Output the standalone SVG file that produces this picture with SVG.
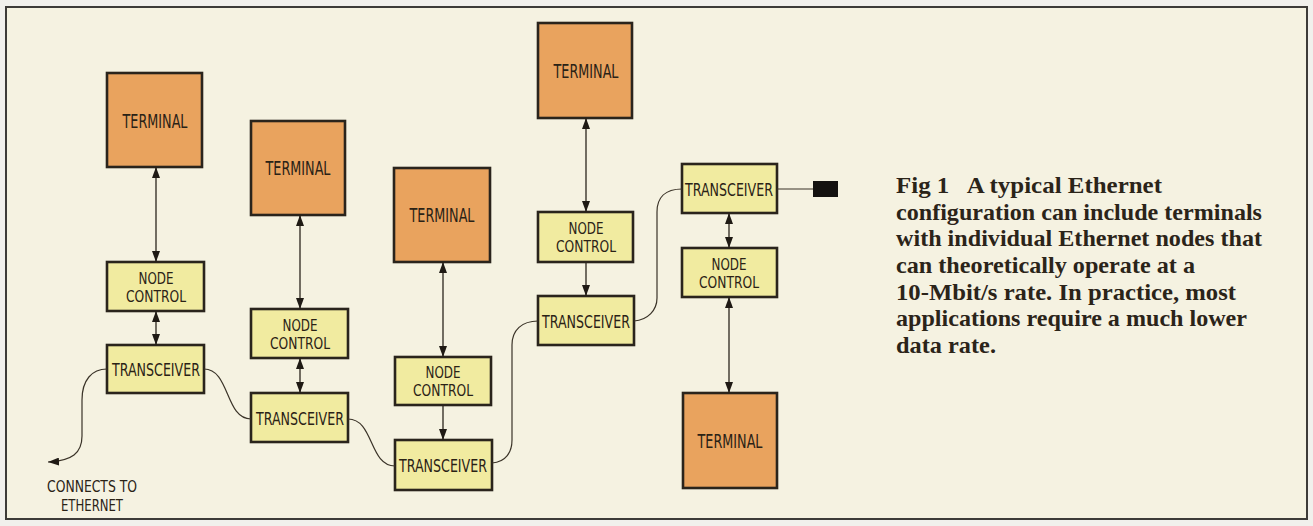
<svg xmlns="http://www.w3.org/2000/svg" width="1313" height="526" viewBox="0 0 1313 526">
  <style>
    .frame { fill: #f5f2e1; stroke: #3d3b38; stroke-width: 2; }
    .term { fill: #e9a35e; stroke: #2a241c; stroke-width: 2.6; }
    .box { fill: #f1eba0; stroke: #2a241c; stroke-width: 2.6; }
    .lbl { font-family: "Liberation Sans Narrow", "DejaVu Sans Condensed", "Liberation Sans", sans-serif; fill: #2a2216; text-anchor: middle; }
    .t18 { font-size: 19.5px; }
    .t16 { font-size: 18px; }
    .t2 { font-size: 15.5px; }
    .link { fill: none; stroke: #2a241c; stroke-width: 1.3; }
    .cable { fill: none; stroke: #3a3328; stroke-width: 1.2; }
    .cap { font-family: "Liberation Serif", "Times New Roman", serif; font-weight: bold; font-size: 23px; fill: #2b2419; }
  </style>
  <defs>
    <marker id="ah" viewBox="0 0 11 8" refX="11" refY="4" markerWidth="11" markerHeight="8" markerUnits="userSpaceOnUse" orient="auto-start-reverse">
      <path d="M0,0 L11,4 L0,8 z" fill="#1f1a14"/>
    </marker>
  </defs>

  <rect width="1313" height="526" fill="#f1f0ec"/>
  <rect class="frame" x="6" y="7" width="1301" height="512"/>

  <!-- column 1 -->
  <g id="terminal1"><rect class="term" x="107" y="73" width="95" height="94"/><text class="lbl t18" x="155" y="128" textLength="65" lengthAdjust="spacingAndGlyphs">TERMINAL</text></g>
  <g id="node1"><rect class="box" x="107" y="262" width="97" height="49"/><text class="lbl t2" x="156" y="284" textLength="35" lengthAdjust="spacingAndGlyphs">NODE</text><text class="lbl t2" x="156" y="302" textLength="60" lengthAdjust="spacingAndGlyphs">CONTROL</text></g>
  <g id="xcvr1"><rect class="box" x="107" y="345" width="97" height="48"/><text class="lbl t16" x="156" y="376" textLength="88" lengthAdjust="spacingAndGlyphs">TRANSCEIVER</text></g>

  <!-- column 2 -->
  <g id="terminal2"><rect class="term" x="251" y="121" width="94" height="94"/><text class="lbl t18" x="298" y="175" textLength="65" lengthAdjust="spacingAndGlyphs">TERMINAL</text></g>
  <g id="node2"><rect class="box" x="251" y="309" width="97" height="49"/><text class="lbl t2" x="300" y="331" textLength="35" lengthAdjust="spacingAndGlyphs">NODE</text><text class="lbl t2" x="300" y="349" textLength="60" lengthAdjust="spacingAndGlyphs">CONTROL</text></g>
  <g id="xcvr2"><rect class="box" x="251" y="393" width="97" height="49"/><text class="lbl t16" x="300" y="425" textLength="88" lengthAdjust="spacingAndGlyphs">TRANSCEIVER</text></g>

  <!-- column 3 -->
  <g id="terminal3"><rect class="term" x="394" y="168" width="96" height="94"/><text class="lbl t18" x="442" y="222" textLength="65" lengthAdjust="spacingAndGlyphs">TERMINAL</text></g>
  <g id="node3"><rect class="box" x="395" y="357" width="96" height="48"/><text class="lbl t2" x="443" y="378" textLength="35" lengthAdjust="spacingAndGlyphs">NODE</text><text class="lbl t2" x="443" y="396" textLength="60" lengthAdjust="spacingAndGlyphs">CONTROL</text></g>
  <g id="xcvr3"><rect class="box" x="395" y="440" width="97" height="50"/><text class="lbl t16" x="443" y="472" textLength="88" lengthAdjust="spacingAndGlyphs">TRANSCEIVER</text></g>

  <!-- column 4 -->
  <g id="terminal4"><rect class="term" x="538" y="23" width="94" height="95"/><text class="lbl t18" x="586" y="78" textLength="65" lengthAdjust="spacingAndGlyphs">TERMINAL</text></g>
  <g id="node4"><rect class="box" x="538" y="212" width="95" height="50"/><text class="lbl t2" x="586" y="234" textLength="35" lengthAdjust="spacingAndGlyphs">NODE</text><text class="lbl t2" x="586" y="252" textLength="60" lengthAdjust="spacingAndGlyphs">CONTROL</text></g>
  <g id="xcvr4"><rect class="box" x="538" y="296" width="96" height="49"/><text class="lbl t16" x="586" y="328" textLength="88" lengthAdjust="spacingAndGlyphs">TRANSCEIVER</text></g>

  <!-- column 5 -->
  <g id="xcvr5"><rect class="box" x="682" y="164" width="95" height="49"/><text class="lbl t16" x="729" y="196" textLength="88" lengthAdjust="spacingAndGlyphs">TRANSCEIVER</text></g>
  <g id="node5"><rect class="box" x="682" y="248" width="95" height="49"/><text class="lbl t2" x="729" y="270" textLength="35" lengthAdjust="spacingAndGlyphs">NODE</text><text class="lbl t2" x="729" y="288" textLength="60" lengthAdjust="spacingAndGlyphs">CONTROL</text></g>
  <g id="terminal5"><rect class="term" x="683" y="393" width="94" height="95"/><text class="lbl t18" x="730" y="448" textLength="65" lengthAdjust="spacingAndGlyphs">TERMINAL</text></g>
  <g id="terminator"><rect x="813" y="181" width="25" height="16" fill="#141210"/></g>

  <g id="connectors">
    <!-- terminal / node / transceiver links -->
    <line class="link" x1="156" y1="167" x2="156" y2="262" marker-start="url(#ah)" marker-end="url(#ah)"/>
    <line class="link" x1="156" y1="311" x2="156" y2="345" marker-start="url(#ah)" marker-end="url(#ah)"/>
    <line class="link" x1="300" y1="215" x2="300" y2="309" marker-start="url(#ah)" marker-end="url(#ah)"/>
    <line class="link" x1="300" y1="358" x2="300" y2="393" marker-start="url(#ah)" marker-end="url(#ah)"/>
    <line class="link" x1="443" y1="262" x2="443" y2="357" marker-start="url(#ah)" marker-end="url(#ah)"/>
    <line class="link" x1="443" y1="405" x2="443" y2="440" marker-end="url(#ah)"/>
    <line class="link" x1="586" y1="118" x2="586" y2="212" marker-start="url(#ah)" marker-end="url(#ah)"/>
    <line class="link" x1="586" y1="262" x2="586" y2="296" marker-end="url(#ah)"/>
    <line class="link" x1="729" y1="213" x2="729" y2="248" marker-start="url(#ah)" marker-end="url(#ah)"/>
    <line class="link" x1="729" y1="297" x2="729" y2="393" marker-start="url(#ah)" marker-end="url(#ah)"/>

    <!-- network cable between transceivers -->
    <path class="cable" d="M107,369 C92,369 82,380 82,400 L82,436 C82,453 72,461 48,462" marker-end="url(#ah)"/>
    <path class="cable" d="M204,369 C230,369 225,419 251,419"/>
    <path class="cable" d="M348,419 C374,419 369,466 395,466"/>
    <path class="cable" d="M492,463 C506,462 512,452 512,440 L512,345 C512,330 522,321 538,321"/>
    <path class="cable" d="M634,321 C648,320 657,310 657,298 L657,212 C657,198 665,189 682,189"/>
    <line class="cable" x1="777" y1="189" x2="813" y2="189"/>
  </g>

  <text class="lbl t2" x="92" y="492" textLength="90" lengthAdjust="spacingAndGlyphs">CONNECTS TO</text>
  <text class="lbl t2" x="92" y="511" textLength="62" lengthAdjust="spacingAndGlyphs">ETHERNET</text>

  <g id="caption">
    <text class="cap" x="896" y="193" xml:space="preserve" textLength="266" lengthAdjust="spacingAndGlyphs">Fig 1   A typical Ethernet</text>
    <text class="cap" x="896" y="220" textLength="366" lengthAdjust="spacingAndGlyphs">configuration can include terminals</text>
    <text class="cap" x="896" y="246" textLength="366" lengthAdjust="spacingAndGlyphs">with individual Ethernet nodes that</text>
    <text class="cap" x="896" y="273" textLength="299" lengthAdjust="spacingAndGlyphs">can theoretically operate at a</text>
    <text class="cap" x="896" y="300" textLength="340" lengthAdjust="spacingAndGlyphs">10-Mbit/s rate. In practice, most</text>
    <text class="cap" x="896" y="326" textLength="351" lengthAdjust="spacingAndGlyphs">applications require a much lower</text>
    <text class="cap" x="896" y="353" textLength="100" lengthAdjust="spacingAndGlyphs">data rate.</text>
  </g>
</svg>
